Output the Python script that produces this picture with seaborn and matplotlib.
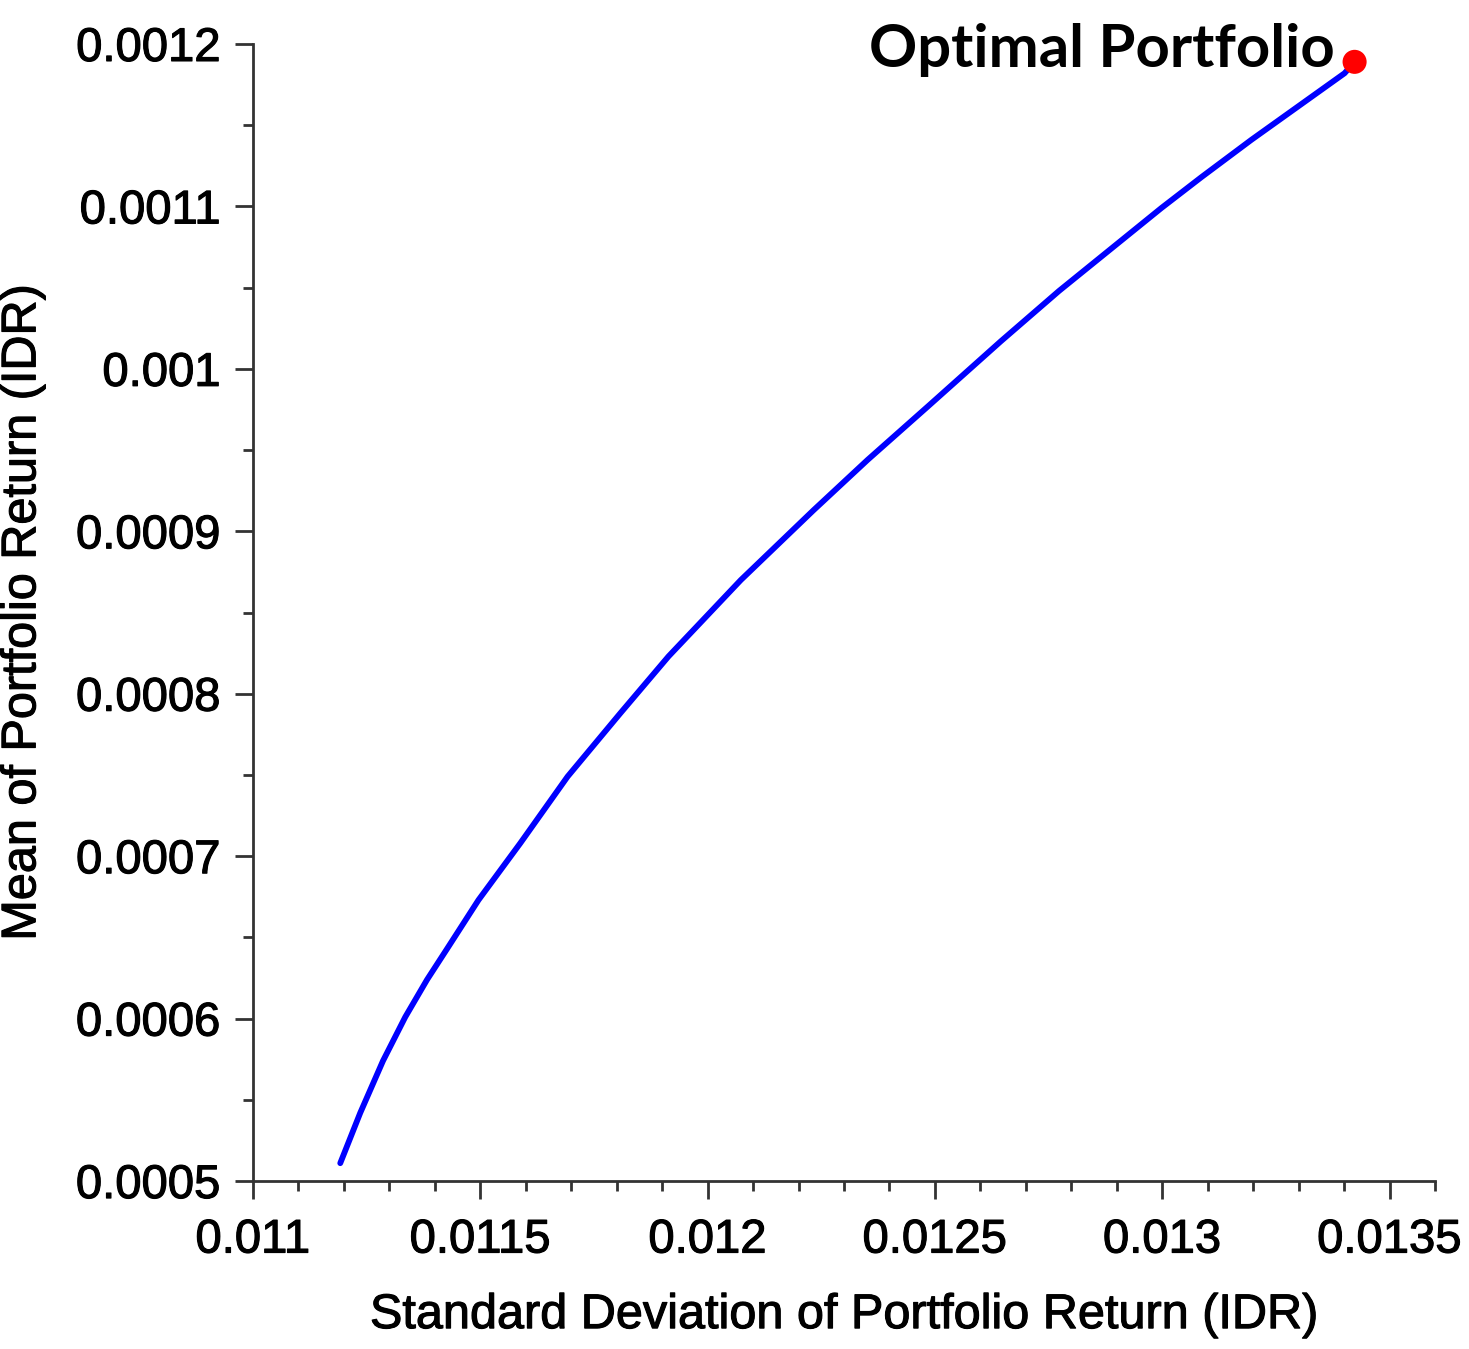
import matplotlib
matplotlib.use("Agg")
import matplotlib.pyplot as plt
import matplotlib.patheffects as pe
from matplotlib.ticker import MultipleLocator
import seaborn as sns
import pandas as pd

# Efficient frontier
std_dev = [0.011192, 0.011236, 0.011286, 0.011335, 0.011383, 0.011427,
           0.011496, 0.011588, 0.011692, 0.011808, 0.011914, 0.012073, 0.012233,
           0.012352, 0.012485, 0.012645, 0.012773, 0.012998, 0.013086, 0.013196,
           0.013306, 0.013401, 0.013423]
mean_return = [0.000511, 0.000542, 0.000574, 0.000601, 0.000624, 0.000643,
               0.000673, 0.000708, 0.000749, 0.000788, 0.000823, 0.000870, 0.000913,
               0.000944, 0.000977, 0.001017, 0.001048, 0.001099, 0.001118, 0.001141,
               0.001163, 0.001182, 0.001189]

optimal_x = [0.013423]
optimal_y = [0.001189]
optimal_label = "Optimal Portfolio"

x_ticks = [0.011, 0.0115, 0.012, 0.0125, 0.013, 0.0135]
x_tick_labels = ["0.011", "0.0115", "0.012", "0.0125", "0.013", "0.0135"]
y_ticks = [0.0005, 0.0006, 0.0007, 0.0008, 0.0009, 0.001, 0.0011, 0.0012]
y_tick_labels = ["0.0005", "0.0006", "0.0007", "0.0008", "0.0009", "0.001", "0.0011", "0.0012"]

x_label = "Standard Deviation of Portfolio Return (IDR)"
y_label = "Mean of Portfolio Return (IDR)"

sns.set_theme(style="ticks")
plt.rcParams['font.family'] = ['Liberation Sans', 'DejaVu Sans']

df = pd.DataFrame({"sd": std_dev, "mean": mean_return})
opt = pd.DataFrame({"sd": optimal_x, "mean": optimal_y})

fig = plt.figure(figsize=(14.69, 13.49), dpi=100)
ax = fig.add_axes([0.1722, 0.1245, 0.9769 - 0.1722, 0.9674 - 0.1245])

sns.lineplot(data=df, x="sd", y="mean", sort=False, color="#0000FF",
             linewidth=4.2, ax=ax, zorder=3)
sns.scatterplot(data=opt, x="sd", y="mean", color="#FF0000", s=300,
                edgecolor="none", ax=ax, zorder=4, clip_on=False)

ax.text(0.013379, 0.001186, optimal_label, ha="right", va="baseline",
        fontsize=43, fontweight="bold", family=["Lato", "DejaVu Sans"],
        color="black", clip_on=False)

ax.set_xlim(0.011, 0.0136)
ax.set_ylim(0.0005, 0.0012)
ax.set_xticks(x_ticks)
ax.set_xticklabels(x_tick_labels)
ax.set_yticks(y_ticks)
ax.set_yticklabels(y_tick_labels)
ax.xaxis.set_minor_locator(MultipleLocator(0.0001))
ax.yaxis.set_minor_locator(MultipleLocator(0.00005))

ax.tick_params(axis="both", which="major", length=13, width=2, color="#333333",
               labelsize=34, pad=10, labelcolor="black")
ax.tick_params(axis="both", which="minor", length=7, width=2, color="#333333")
ax.tick_params(axis="x", which="major", pad=14)

thick = [pe.withStroke(linewidth=0.8, foreground="black")]
for lab in ax.get_xticklabels() + ax.get_yticklabels():
    lab.set_path_effects(thick)

for side in ["top", "right"]:
    ax.spines[side].set_visible(False)
for side in ["left", "bottom"]:
    ax.spines[side].set_linewidth(2)
    ax.spines[side].set_color("#333333")

xl = ax.set_xlabel(x_label, fontsize=35, labelpad=22, color="black")
yl = ax.set_ylabel(y_label, fontsize=35, labelpad=22, color="black")
xl.set_path_effects(thick)
yl.set_path_effects(thick)

fig.savefig("out.png", dpi=100, facecolor="white")
